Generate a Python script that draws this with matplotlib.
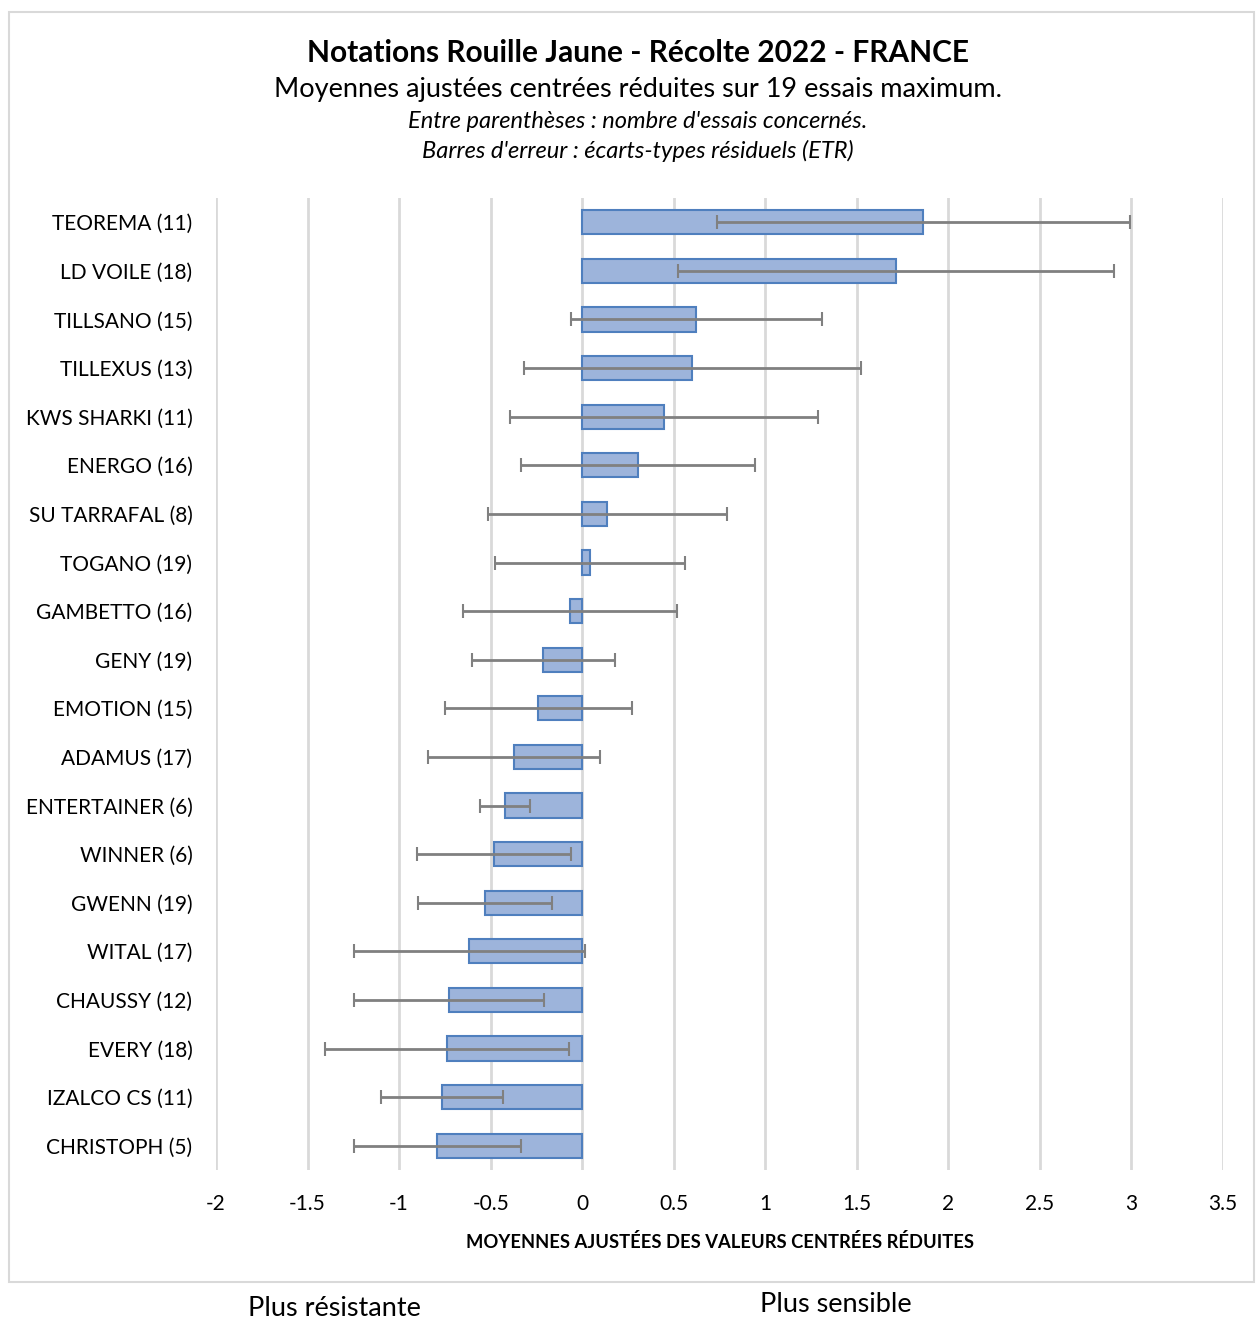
import numpy as np
from matplotlib import pyplot as plt
from matplotlib.patches import Rectangle

plt.rcParams['font.family'] = ['Lato', 'DejaVu Sans']

varietes = ["TEOREMA (11)", "LD VOILE (18)", "TILLSANO (15)", "TILLEXUS (13)",
            "KWS SHARKI (11)", "ENERGO (16)", "SU TARRAFAL (8)", "TOGANO (19)",
            "GAMBETTO (16)", "GENY (19)", "EMOTION (15)", "ADAMUS (17)",
            "ENTERTAINER (6)", "WINNER (6)", "GWENN (19)", "WITAL (17)",
            "CHAUSSY (12)", "EVERY (18)", "IZALCO CS (11)", "CHRISTOPH (5)"]
moyennes = [1.863, 1.716, 0.623, 0.601, 0.448, 0.306, 0.137, 0.044, -0.066, -0.213,
            -0.240, -0.372, -0.421, -0.481, -0.530, -0.617, -0.727, -0.738, -0.765, -0.792]
etr = [1.128, 1.19, 0.685, 0.92, 0.84, 0.64, 0.653, 0.52, 0.585, 0.39,
       0.51, 0.47, 0.137, 0.42, 0.366, 0.63, 0.52, 0.665, 0.333, 0.457]
xticks = [-2, -1.5, -1, -0.5, 0, 0.5, 1, 1.5, 2, 2.5, 3, 3.5]

fig = plt.figure(figsize=(12.56, 13.2), dpi=100)

# cadre du graphique
fig.patches.append(Rectangle((9/1256, 1-1282/1320), 1245/1256, 1270/1320,
                             transform=fig.transFigure, fill=False,
                             edgecolor='#d9d9d9', lw=1.5))

ax = fig.add_axes([216/1256, 1-1170/1320, 1007/1256, 972/1320])
y = np.arange(len(varietes))
ax.barh(y, moyennes, height=0.5, color='#9db4db', edgecolor='#4f7fbe', lw=1.5, zorder=3)
ax.errorbar(moyennes, y, xerr=etr, fmt='none', ecolor='#808080', elinewidth=2,
            capsize=5, capthick=1.5, zorder=4)

ax.set_ylim(len(varietes)-0.5, -0.5)
ax.set_xlim(-2, 3.5)
ax.set_xticks(xticks)
ax.set_xticklabels([f"{t:g}" for t in xticks], fontsize=15)
ax.set_yticks(y)
ax.set_yticklabels(varietes, fontsize=15)
ax.tick_params(length=0)
ax.tick_params(axis='x', pad=17)
ax.tick_params(axis='y', pad=17)
for s in ax.spines.values():
    s.set_visible(False)
ax.grid(axis='x', color='#d9d9d9', lw=2, zorder=0)
ax.set_xlabel("MOYENNES AJUSTÉES DES VALEURS CENTRÉES RÉDUITES", fontsize=13.2,
              fontweight='bold', labelpad=14)

xc = 638/1256
fig.text(xc, 1-53/1320, "Notations Rouille Jaune - Récolte 2022 - FRANCE",
         ha='center', va='center', fontsize=21.5, fontweight='bold')
fig.text(xc, 1-89/1320, "Moyennes ajustées centrées réduites sur 19 essais maximum.",
         ha='center', va='center', fontsize=19.5)
fig.text(xc, 1-122/1320, "Entre parenthèses : nombre d'essais concernés.",
         ha='center', va='center', fontsize=17, style='italic')
fig.text(xc, 1-151/1320, "Barres d'erreur : écarts-types résiduels (ETR)",
         ha='center', va='center', fontsize=17, style='italic')

fig.text(334/1256, 1-1308/1320, "Plus résistante", ha='center', va='center', fontsize=19.5)
fig.text(836/1256, 1-1305/1320, "Plus sensible", ha='center', va='center', fontsize=19.5)

plt.savefig("out.png", dpi=100)
